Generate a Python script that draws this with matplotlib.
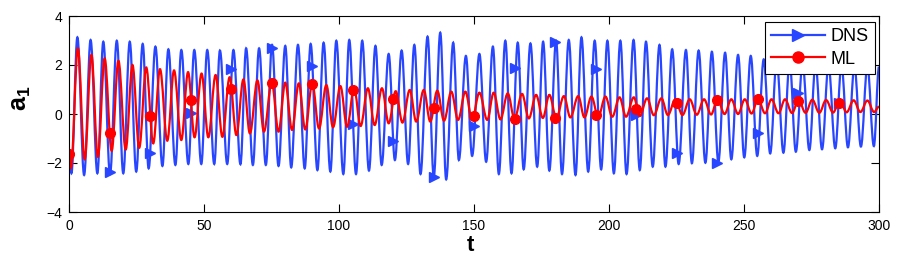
import numpy as np
import matplotlib
matplotlib.use("Agg")
from matplotlib import pyplot as plt
from matplotlib.path import Path
from matplotlib.patches import PathPatch
from matplotlib.lines import Line2D

plt.rcParams['font.family'] = ['Liberation Sans', 'DejaVu Sans']
plt.rcParams['mathtext.fontset'] = 'custom'
plt.rcParams['mathtext.rm'] = 'Liberation Sans'
plt.rcParams['mathtext.bf'] = 'Liberation Sans:bold'

# marker samples (every 15 time units)
marker_t = [0, 15, 30, 45, 60, 75, 90, 105, 120, 135, 150, 165, 180, 195, 210, 225, 240, 255, 270, 285]
dns_marker = [-1.6, -2.35, -1.58, 0.03, 1.84, 2.68, 1.96, -0.42, -1.1, -2.58, -0.49, 1.86, 2.93, 1.84,
              -0.04, -1.58, -1.99, -0.79, 0.84, 0.45]
ml_marker = [-1.63, -0.79, -0.08, 0.57, 1.01, 1.25, 1.22, 1.0, 0.63, 0.26, -0.07, -0.19, -0.18, -0.04,
             0.19, 0.44, 0.57, 0.61, 0.54, 0.44]

# DNS: local maxima / minima
dns_peak_t = [3.1, 8.0, 12.7, 17.7, 22.5, 27.3, 32.0, 36.8, 41.6, 46.4, 51.2, 55.9, 60.9, 65.6, 70.4,
              75.2, 80.1, 84.8, 89.5, 94.3, 99.0, 103.8, 108.6, 113.5, 118.4, 123.2, 127.9, 132.8, 137.5, 142.3, 147.0,
              152.0, 157.0, 161.6, 166.2, 170.9, 175.6, 180.4, 185.1, 189.8, 194.7, 199.4, 204.2, 209.1, 213.7, 218.7, 223.4,
              228.5, 233.2, 238.1, 243.0, 247.8, 252.5, 257.3, 262.1, 266.9, 271.7, 276.5, 281.3, 286.1, 290.9, 295.7]
dns_peak_a = [3.13, 3.02, 2.95, 2.99, 2.95, 2.86, 2.75, 2.64, 2.61, 2.61, 2.61, 2.59, 2.61, 2.68, 2.68,
              2.82, 2.78, 2.82, 2.86, 2.91, 2.99, 3.02, 2.99, 2.78, 2.45, 2.59, 2.82, 3.16, 3.32, 2.91, 2.37,
              2.45, 2.75, 2.99, 2.91, 2.88, 2.95, 2.99, 3.02, 3.13, 2.99, 2.99, 2.99, 3.02, 2.95, 2.82, 2.64,
              2.61, 2.59, 2.54, 2.50, 2.41, 2.37, 2.23, 2.2, 2.15, 2.1, 2.05, 2.0, 2.0, 1.95, 1.95]
dns_trough_t = [0.9, 5.6, 10.5, 15.2, 20.1, 24.9, 29.5, 34.6, 39.4, 44.2, 49.0, 53.8, 58.6, 63.5, 68.1, 72.9,
                77.6, 82.3, 87.3, 92.0, 96.8, 101.6, 106.3, 111.1, 115.8, 120.7, 125.6, 130.2, 135.1, 139.7, 144.4, 149.3,
                154.5, 159.2, 163.9, 168.4, 173.4, 177.9, 182.6, 187.6, 192.3, 197.1, 201.8, 206.5, 211.4, 216.2, 220.9,
                225.8, 230.7, 235.7, 240.5, 245.3, 250.1, 254.9, 259.7, 264.6, 269.2, 274.2, 278.9, 283.8, 288.5, 293.3, 298.1]
dns_trough_a = [-2.42, -2.49, -2.42, -2.45, -2.42, -2.35, -2.22, -2.12, -2.08, -2.04, -2.04, -2.04, -2.04, -2.05, -2.08, -2.08,
                -2.12, -2.18, -2.22, -2.29, -2.35, -2.45, -2.45, -2.31, -2.08, -1.88, -2.04, -2.45, -2.56, -2.67, -1.88, -1.71,
                -1.95, -2.45, -2.42, -2.26, -2.15, -2.31, -2.45, -2.49, -2.35, -2.26, -2.42, -2.45, -2.29, -2.15, -2.15,
                -2.04, -2.01, -1.99, -1.95, -1.85, -1.77, -1.71, -1.61, -1.58, -1.54, -1.47, -1.44, -1.40, -1.36, -1.33, -1.31]
dns_ends = [(0.0, -1.6), (300.0, 1.93)]

# ML: local maxima / minima
ml_peak_t = [3.3, 8.3, 13.2, 18.3, 23.5, 28.6, 33.7, 38.9, 44.1, 49.1, 54.3, 59.5, 64.6, 69.8,
             75.1, 80.1, 85.1, 90.1, 95.3, 100.5, 105.6, 110.7, 115.9, 121.0, 126.2, 131.4, 136.4, 141.6, 146.8,
             152.0, 157.3, 162.5, 167.8, 173.0, 177.9, 183.3, 188.6, 193.5, 198.7, 203.9, 209.2, 214.1, 219.4, 224.6,
             229.9, 235.2, 240.2, 245.3, 250.3, 255.2, 260.2, 265.2, 270.2, 275.3, 280.4, 285.5, 290.6, 295.7]
ml_peak_a = [2.68, 2.41, 2.27, 2.17, 2.0, 1.9, 1.83, 1.78, 1.71, 1.65, 1.59, 1.50, 1.41, 1.37,
             1.30, 1.28, 1.25, 1.25, 1.18, 1.14, 1.05, 1.05, 1.05, 0.93, 0.98, 0.98, 0.95, 0.91, 0.91,
             0.87, 0.87, 0.84, 0.82, 0.78, 0.78, 0.73, 0.73, 0.71, 0.71, 0.68, 0.68, 0.64, 0.64, 0.60,
             0.60, 0.60, 0.60, 0.60, 0.60, 0.61, 0.60, 0.60, 0.58, 0.58, 0.57, 0.57, 0.56, 0.55]
ml_trough_t = [0.7, 5.8, 10.7, 15.8, 21.0, 26.0, 31.2, 36.4, 41.6, 46.5, 51.6, 56.8, 62.0, 67.0, 72.2,
               77.6, 82.6, 87.5, 92.6, 97.8, 103.0, 108.0, 113.2, 118.4, 123.5, 128.6, 133.8, 138.9, 144.1, 149.3,
               154.9, 159.8, 165.0, 170.3, 175.5, 180.5, 185.7, 190.9, 196.0, 201.2, 206.3, 211.4, 216.6, 221.8,
               227.2, 232.5, 237.8, 242.8, 247.8, 252.8, 257.8, 262.8, 267.8, 272.8, 277.9, 283.0, 288.0, 293.1, 298.2]
ml_trough_a = [-2.2, -1.85, -1.75, -1.5, -1.45, -1.38, -1.2, -1.09, -1.06, -0.95, -0.95, -0.93, -0.86, -0.79, -0.72,
               -0.72, -0.65, -0.63, -0.59, -0.54, -0.52, -0.49, -0.45, -0.38, -0.35, -0.31, -0.31, -0.27, -0.24, -0.22,
               -0.24, -0.22, -0.19, -0.18, -0.16, -0.16, -0.14, -0.14, -0.11, -0.11, -0.11, -0.08, -0.05, -0.04,
               -0.04, -0.03, -0.02, 0.0, 0.0, 0.02, 0.03, 0.03, 0.04, 0.05, 0.05, 0.06, 0.07, 0.08, 0.08]
ml_ends = [(0.0, -1.63), (300.0, 0.3)]


def smooth_path(peak_t, peak_a, trough_t, trough_a, ends, k=0.364):
    # curve through the extrema, flat tangent at each one (bezier segments)
    t = np.concatenate([peak_t, trough_t, [e[0] for e in ends]])
    a = np.concatenate([peak_a, trough_a, [e[1] for e in ends]])
    order = np.argsort(t)
    t, a = t[order], a[order]
    verts = [(t[0], a[0])]
    codes = [Path.MOVETO]
    for i in range(len(t) - 1):
        dt = t[i + 1] - t[i]
        verts += [(t[i] + k * dt, a[i]), (t[i + 1] - k * dt, a[i + 1]), (t[i + 1], a[i + 1])]
        codes += [Path.CURVE4] * 3
    return Path(verts, codes)


fig = plt.figure(figsize=(8.97, 2.6), dpi=100)
ax = fig.add_axes([69 / 897, 48 / 260, 810 / 897, 196 / 260])

blue = "#2846ff"
red = "#ff0000"
lw = 1.6

ax.add_patch(PathPatch(smooth_path(dns_peak_t, dns_peak_a, dns_trough_t, dns_trough_a, dns_ends),
                       facecolor="none", edgecolor=blue, lw=lw, zorder=2))
ax.plot(marker_t, dns_marker, ls="none", marker=">", markersize=6.5, color=blue, zorder=2.1)
ax.add_patch(PathPatch(smooth_path(ml_peak_t, ml_peak_a, ml_trough_t, ml_trough_a, ml_ends),
                       facecolor="none", edgecolor=red, lw=lw, zorder=2.2))
ax.plot(marker_t, ml_marker, ls="none", marker="o", markersize=7, color=red, zorder=2.3)

ax.set_xlim(0, 300)
ax.set_ylim(-4, 4)
ax.set_xticks([0, 50, 100, 150, 200, 250, 300])
ax.set_yticks([-4, -2, 0, 2, 4])
ax.tick_params(direction="in", length=5.5, width=0.8, top=True, right=True, labelsize=10, pad=5)
for s in ax.spines.values():
    s.set_linewidth(0.8)

ax.set_xlabel("t", fontsize=16, fontweight="bold")
ax.xaxis.set_label_coords(0.495, -0.115)
ax.set_ylabel(r"$\mathbf{a_1}$", fontsize=18)
ax.yaxis.set_label_coords(-0.044, 0.58)

handles = [Line2D([], [], color=blue, lw=lw, marker=">", markersize=8),
           Line2D([], [], color=red, lw=lw, marker="o", markersize=8)]
leg = ax.legend(handles, ["DNS", "ML"], loc="upper right", bbox_to_anchor=(0.995, 0.97), borderaxespad=0,
                fontsize=13, fancybox=False, edgecolor="black", framealpha=1, handlelength=3.0,
                handletextpad=0.3, borderpad=0.35, labelspacing=0.3)
leg.get_frame().set_linewidth(0.8)

fig.savefig("out.png", dpi=100)
